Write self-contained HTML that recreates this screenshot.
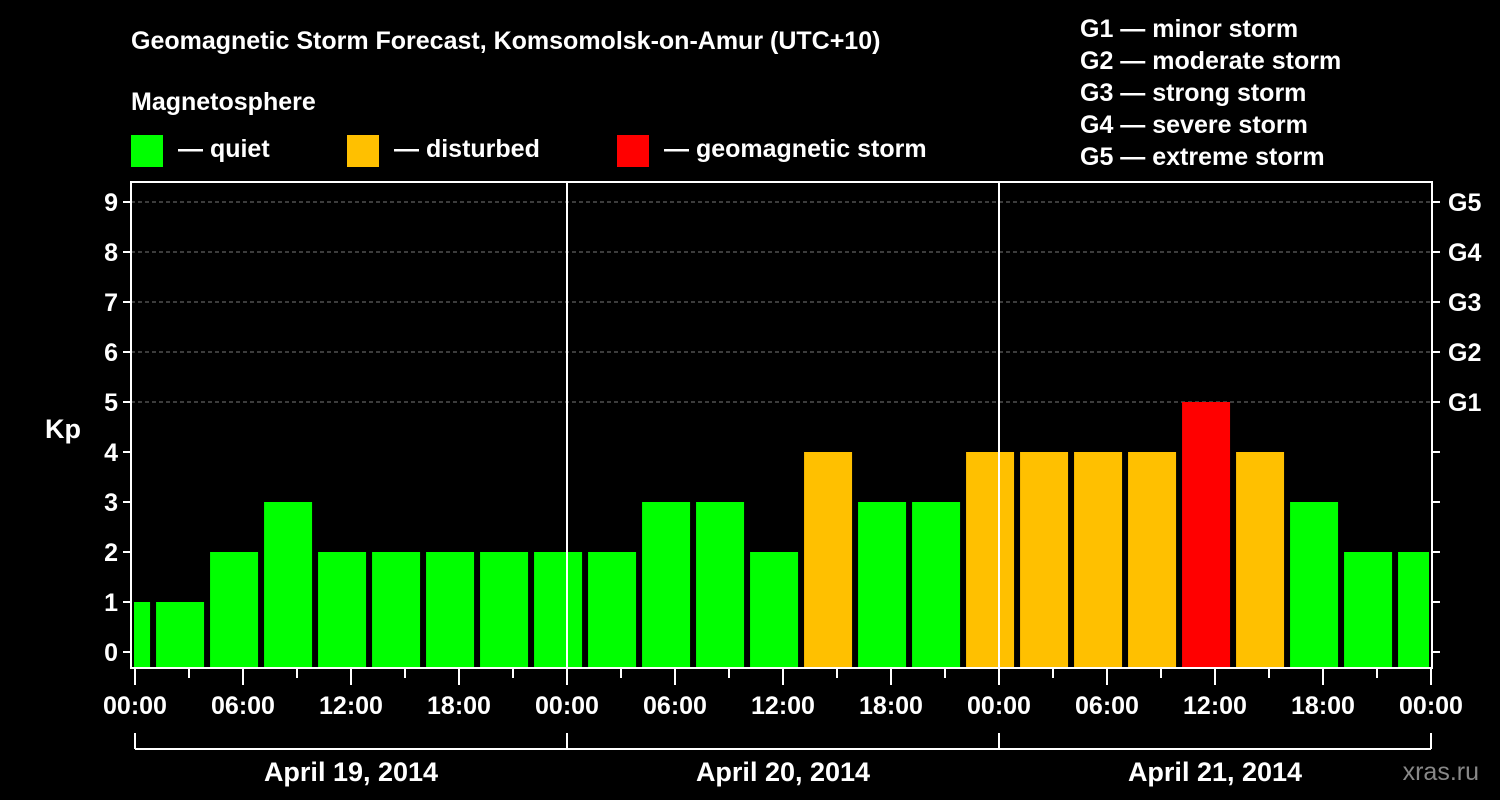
<!DOCTYPE html>
<html><head><meta charset="utf-8"><style>
body{margin:0;background:#000;}
svg{display:block;font-family:"Liberation Sans",sans-serif;font-weight:bold;}
</style></head><body>
<svg id="c" width="1500" height="800" viewBox="0 0 1500 800">
<rect width="1500" height="800" fill="#000"/>
<text x="131" y="49" fill="#fff" font-size="25">Geomagnetic Storm Forecast, Komsomolsk-on-Amur (UTC+10)</text>
<text x="131" y="110" fill="#fff" font-size="25">Magnetosphere</text>
<g><rect x="131" y="135" width="32" height="32" fill="#00ff00"/><text x="178" y="157" fill="#fff" font-size="25">— quiet</text></g>
<g><rect x="347" y="135" width="32" height="32" fill="#ffc000"/><text x="394" y="157" fill="#fff" font-size="25">— disturbed</text></g>
<g><rect x="617" y="135" width="32" height="32" fill="#ff0000"/><text x="664" y="157" fill="#fff" font-size="25">— geomagnetic storm</text></g>
<g fill="#fff" font-size="25">
<text x="1080" y="37">G1 — minor storm</text>
<text x="1080" y="69">G2 — moderate storm</text>
<text x="1080" y="101">G3 — strong storm</text>
<text x="1080" y="133">G4 — severe storm</text>
<text x="1080" y="165">G5 — extreme storm</text>
</g>
<text x="63" y="438" fill="#fff" font-size="27" text-anchor="middle">Kp</text>
<text x="1479" y="780" fill="#888" font-size="25" text-anchor="end" font-weight="normal">xras.ru</text>
<g id="plot"></g>
</svg>
<script>
const kpValues=[1,1,2,3,2,2,2,2,2,2,3,3,2,4,3,3,4,4,4,4,5,4,3,2,2];
const kpLevels=[0,1,2,3,4,5,6,7,8,9];
const gLabels=["","","","","","G1","G2","G3","G4","G5"];
const timeLabels=["00:00","06:00","12:00","18:00","00:00","06:00","12:00","18:00","00:00","06:00","12:00","18:00","00:00"];
const dayLabels=["April 19, 2014","April 20, 2014","April 21, 2014"];
const NS="http://www.w3.org/2000/svg";
const g=document.getElementById('plot');
const X0=135,PX_H=18,Y0=652,PX_KP=50,TOP=182,BOT=668,LEFT=131,RIGHT=1432;
const xHour=h=>X0+h*PX_H, yKp=v=>Y0-v*PX_KP;
function el(t,a,p){const e=document.createElementNS(NS,t);for(const k in a)e.setAttribute(k,a[k]);(p||g).appendChild(e);return e;}
// grid
kpLevels.forEach(v=>{
 if(v>=5){const l=el('line',{x1:LEFT,x2:RIGHT,y1:yKp(v),y2:yKp(v),stroke:'#777','stroke-dasharray':'4,3','stroke-width':1});
 
 }
});
// bars
kpValues.forEach((v,i)=>{
 const c=v>=5?'#ff0000':v>=4?'#ffc000':'#00ff00';
 let x1=xHour(3*i-1.83),x2=x1+48;
 x1=Math.max(x1,LEFT+3);x2=Math.min(x2,RIGHT-3);
 const r=el('rect',{x:x1,y:yKp(v),width:x2-x1,height:BOT-yKp(v),fill:c});
 
 
});
// day separators
[1,2].forEach(d=>{const l=el('line',{x1:xHour(24*d),x2:xHour(24*d),y1:TOP,y2:BOT,stroke:'#fff','stroke-width':2});
 
 });
// frame
const f=el('rect',{x:LEFT,y:TOP,width:RIGHT-LEFT,height:BOT-TOP,fill:'none',stroke:'#fff','stroke-width':2});


// y ticks and labels
kpLevels.forEach((v,i)=>{
 el('line',{x1:LEFT-8,x2:LEFT,y1:yKp(v),y2:yKp(v),stroke:'#fff','stroke-width':2});
 el('line',{x1:RIGHT,x2:RIGHT+8,y1:yKp(v),y2:yKp(v),stroke:'#fff','stroke-width':2});
 const t=el('text',{x:LEFT-13,y:yKp(v)+9,fill:'#fff','font-size':25,'text-anchor':'end'});t.textContent=v;
 
 
 if(gLabels[i]){const t2=el('text',{x:RIGHT+16,y:yKp(v)+9,fill:'#fff','font-size':25});t2.textContent=gLabels[i];
 
 }
});
// x ticks
for(let h=0;h<=72;h+=3){const maj=h%6===0;
 el('line',{x1:xHour(h),x2:xHour(h),y1:BOT,y2:BOT+(maj?17:10),stroke:'#fff','stroke-width':2});}
timeLabels.forEach((s,i)=>{const t=el('text',{x:xHour(6*i),y:714,fill:'#fff','font-size':25,'text-anchor':'middle'});t.textContent=s;
 
 });
// day brackets
el('line',{x1:xHour(0),x2:xHour(72),y1:749,y2:749,stroke:'#fff','stroke-width':2});
for(let d=0;d<=3;d++)el('line',{x1:xHour(24*d),x2:xHour(24*d),y1:733,y2:749,stroke:'#fff','stroke-width':2});
dayLabels.forEach((s,i)=>{const t=el('text',{x:xHour(24*i+12),y:781,fill:'#fff','font-size':27,'text-anchor':'middle'});t.textContent=s;
 
 });
</script>
</body></html>
